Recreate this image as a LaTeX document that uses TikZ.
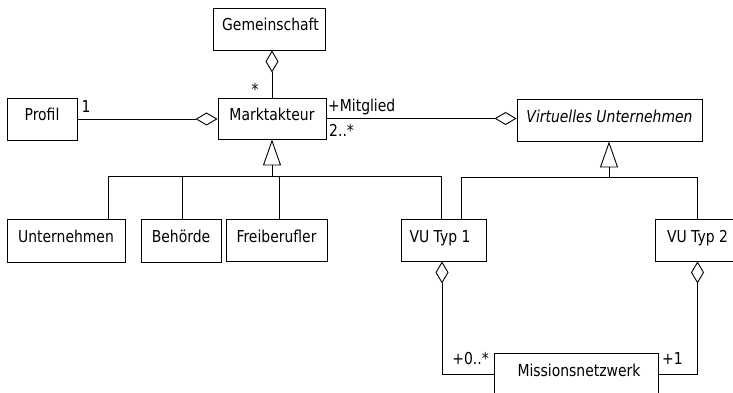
\documentclass[tikz,border=0pt]{standalone}
\usepackage{fontspec}
\newfontfamily\umlfont{DejaVu Sans}[FakeStretch=0.85]
\usetikzlibrary{arrows.meta}
\begin{document}
\begin{tikzpicture}[x=1pt,y=-1pt,
  every node/.style={font=\umlfont\fontsize{16.4}{19}\selectfont, inner sep=0pt},
  cls/.style={draw, line width=0.9pt, minimum height=42pt, text height=12pt, text depth=8pt, fill=white},
  lbl/.style={anchor=base},
  conn/.style={line width=0.9pt},
  agg/.style={conn, -{Diamond[open, length=22pt, width=13pt, line width=0.9pt]}},
  gen/.style={conn, -{Triangle[open, length=26pt, width=18pt, line width=0.9pt]}}]
\useasboundingbox (0,0) rectangle (733,393);
\fill[white] (0,0) rectangle (733,393);

% classes
\node[cls, minimum width=112pt] (gem) at (269,29) {\hspace*{3pt}Gemeinschaft};
\node[cls, minimum width=70pt] (pr) at (42,119) {Profil};
\node[cls, minimum width=108pt, minimum height=41pt] (mk) at (272,118.5) {Marktakteur};
\node[cls, minimum width=185pt] (vu) at (609.5,120) {\itshape Virtuelles Unternehmen};
\node[cls, minimum width=118pt, minimum height=43pt] (un) at (66,240.5) {Unternehmen};
\node[cls, minimum width=80pt, minimum height=43pt] (be) at (181,240.5) {Behörde};
\node[cls, minimum width=101pt] (fb) at (276.5,240) {Freiberufler};
\node[cls, minimum width=85pt] (v1) at (443.5,240) {\hspace*{-7pt}VU Typ 1};
\node[cls, minimum width=85pt] (v2) at (697.5,240) {VU Typ 2};
\node[cls, minimum width=164pt] (mn) at (576,374) {\hspace*{6pt}Missionsnetzwerk};

% junction points of the generalisation trees
\coordinate (j1) at (272,176);
\coordinate (j2) at (609,177);

% aggregations
\draw[agg] (mk.north) -- (mk.north |- gem.south);
\draw[agg] (pr.east) -- (pr.east -| mk.west);
\draw[agg] (mk.east) -- (mk.east -| vu.west);
\draw[agg] (mn.west) -| ([xshift=-1.5pt]v1.south);
\draw[agg] (mn.east) -| (v2.south);

% generalisation Marktakteur
\draw[gen] (j1) -- (mk.south);
\draw[conn] ([xshift=42pt]un.north) |- (j1);
\draw[conn] ([xshift=1pt]be.north) |- (j1);
\draw[conn] ([xshift=2.5pt]fb.north) |- (j1);
\draw[conn] ([xshift=-2pt]v1.north) |- (j1);

% generalisation Virtuelles Unternehmen
\draw[gen] (j2) -- (vu.south -| j2);
\draw[conn] ([xshift=17.5pt]v1.north) |- (j2);
\draw[conn] (v2.north) |- (j2);

% multiplicities and roles
\node[lbl] (m1) at (255,96) {*};
\node[lbl] (m2) at (86,113) {1};
\node[lbl, anchor=base west] (m3) at (328,112) {+Mitglied};
\node[lbl, anchor=base west] (m4) at (329,136) {2..*};
\node[lbl, anchor=base east] (m5) at (489,364) {+0..*};
\node[lbl, anchor=base west] (m6) at (662,364) {+1};
\end{tikzpicture}
\end{document}
